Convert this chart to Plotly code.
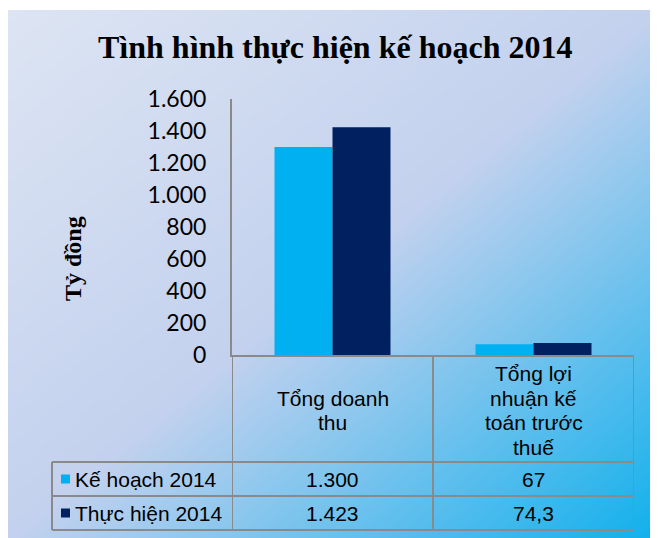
import plotly.graph_objects as go

categories = ["Tổng doanh thu", "Tổng lợi nhuận kế toán trước thuế"]
header_lines = [["Tổng doanh", "thu"], ["Tổng lợi", "nhuận kế", "toán trước", "thuế"]]
series_names = ["Kế hoạch 2014", "Thực hiện 2014"]
ke_hoach = [1300, 67]
thuc_hien = [1423, 74.3]
y_ticks = [0, 200, 400, 600, 800, 1000, 1200, 1400, 1600]

# page has an 8px body margin, so the figure sits at (8, 8) in the window
OFF = 8
W, H = 650, 530
LIGHT = "#00b0f0"
DARK = "#002060"
LINE = "#8a8a8a"
SANS = "Liberation Sans, Arial, sans-serif"
SERIF = "Liberation Serif, Times New Roman, serif"


def px(x):
    return (x - OFF) / W


def py(y):
    return 1 - (y - OFF) / H


def vn_number(v):
    # vietnamese style: dot for thousands, comma for decimals
    if float(v).is_integer():
        return f"{int(v):,}".replace(",", ".")
    return str(v).replace(".", ",")


# plot box and table rows, in window pixels
PLOT_L, PLOT_R, PLOT_T, PLOT_B = 232, 634, 99, 355
TBL_L = 52
HDR_B, ROW1_B, ROW2_B = 462, 496, 530

fig = go.Figure()

# gradient background on its own hidden axes (drawn first = underneath)
fig.add_trace(go.Heatmap(
    z=[[1, 2], [0, 1]], x=[0, 1], y=[0, 1],
    zsmooth="best", zmin=0, zmax=2, showscale=False, hoverinfo="skip",
    colorscale=[[0, "#dde5f3"], [0.5, "#c3d1ee"], [1, "#10b0ec"]],
    xaxis="x", yaxis="y",
))

for name, vals, color in [(series_names[0], ke_hoach, LIGHT),
                          (series_names[1], thuc_hien, DARK)]:
    fig.add_trace(go.Bar(
        x=categories, y=vals, name=name, marker_color=color,
        marker_line_width=0, xaxis="x2", yaxis="y2",
    ))

shapes = []
line = dict(color=LINE, width=2)
# vertical table lines (category boundaries)
for xv in [-0.5, 0.5, 1.5]:
    shapes.append(dict(type="line", xref="x2", yref="paper", x0=xv, x1=xv,
                       y0=py(PLOT_B), y1=py(ROW2_B), line=line))
shapes.append(dict(type="line", xref="paper", yref="paper", x0=px(TBL_L), x1=px(TBL_L),
                   y0=py(HDR_B), y1=py(ROW2_B), line=line))
for yv in [HDR_B, ROW1_B, ROW2_B]:
    shapes.append(dict(type="line", xref="paper", yref="paper", x0=px(TBL_L), x1=px(PLOT_R),
                       y0=py(yv), y1=py(yv), line=line))

annotations = [
    dict(text="<b>Tình hình thực hiện kế hoạch 2014</b>", x=px(335), y=py(47),
         font=dict(family=SERIF, size=32, color="black")),
    dict(text="<b>Tỷ đồng</b>", x=px(73), y=py(259), textangle=-90,
         font=dict(family=SERIF, size=24, color="black")),
]

# header cell text, one annotation per line to keep the tight line pitch
pitch = 24.5
hdr_mid = (PLOT_B + HDR_B) / 2 + 2
for cat, lines in zip(categories, header_lines):
    first = hdr_mid - pitch * (len(lines) - 1) / 2
    for i, txt in enumerate(lines):
        annotations.append(dict(text=txt, x=cat, xref="x2", y=py(first + i * pitch),
                                font=dict(family=SANS, size=21, color="black")))

row_centers = [(HDR_B + ROW1_B) / 2, (ROW1_B + ROW2_B) / 2]
for name, vals, color, yc in zip(series_names, [ke_hoach, thuc_hien], [LIGHT, DARK], row_centers):
    shapes.append(dict(type="rect", xref="paper", yref="paper", x0=px(61), x1=px(70),
                       y0=py(yc - 4.5), y1=py(yc + 4.5), fillcolor=color, line_width=0))
    annotations.append(dict(text=name, x=px(73), y=py(yc), xanchor="left",
                            font=dict(family=SANS, size=21, color="black")))
    for cat, v in zip(categories, vals):
        annotations.append(dict(text=vn_number(v), x=cat, xref="x2", y=py(yc),
                                font=dict(family=SANS, size=21, color="black")))

for a in annotations:
    a.setdefault("xref", "paper")
    a.setdefault("yref", "paper")
    a.setdefault("xanchor", "center")
    a.setdefault("yanchor", "middle")
    a["showarrow"] = False

fig.update_layout(
    width=W, height=H,
    margin=dict(l=0, r=0, t=0, b=0, pad=0, autoexpand=False),
    paper_bgcolor="white",
    plot_bgcolor="rgba(0,0,0,0)",
    separators=",.",
    showlegend=False,
    barmode="group",
    bargap=0.423,
    bargroupgap=0,
    xaxis=dict(domain=[0, 1], range=[0, 1], visible=False, fixedrange=True, automargin=False),
    yaxis=dict(domain=[0, py(10)], range=[0, 1], visible=False, fixedrange=True, automargin=False),
    xaxis2=dict(domain=[px(PLOT_L), px(PLOT_R)], anchor="y2", type="category",
                range=[-0.5, 1.5], showticklabels=False, showgrid=False, automargin=False,
                showline=True, linecolor=LINE, linewidth=2, zeroline=False),
    yaxis2=dict(domain=[py(PLOT_B), py(PLOT_T)], anchor="x2", range=[0, 1600],
                tickvals=y_ticks, tickformat=",", showgrid=False, zeroline=False,
                showline=True, linecolor=LINE, linewidth=2, ticks="", automargin=False,
                ticklabelstandoff=19,
                tickfont=dict(family="Lato, Open Sans, sans-serif", size=23, color="black")),
    shapes=shapes,
    annotations=annotations,
)

fig.write_html("out.html")
